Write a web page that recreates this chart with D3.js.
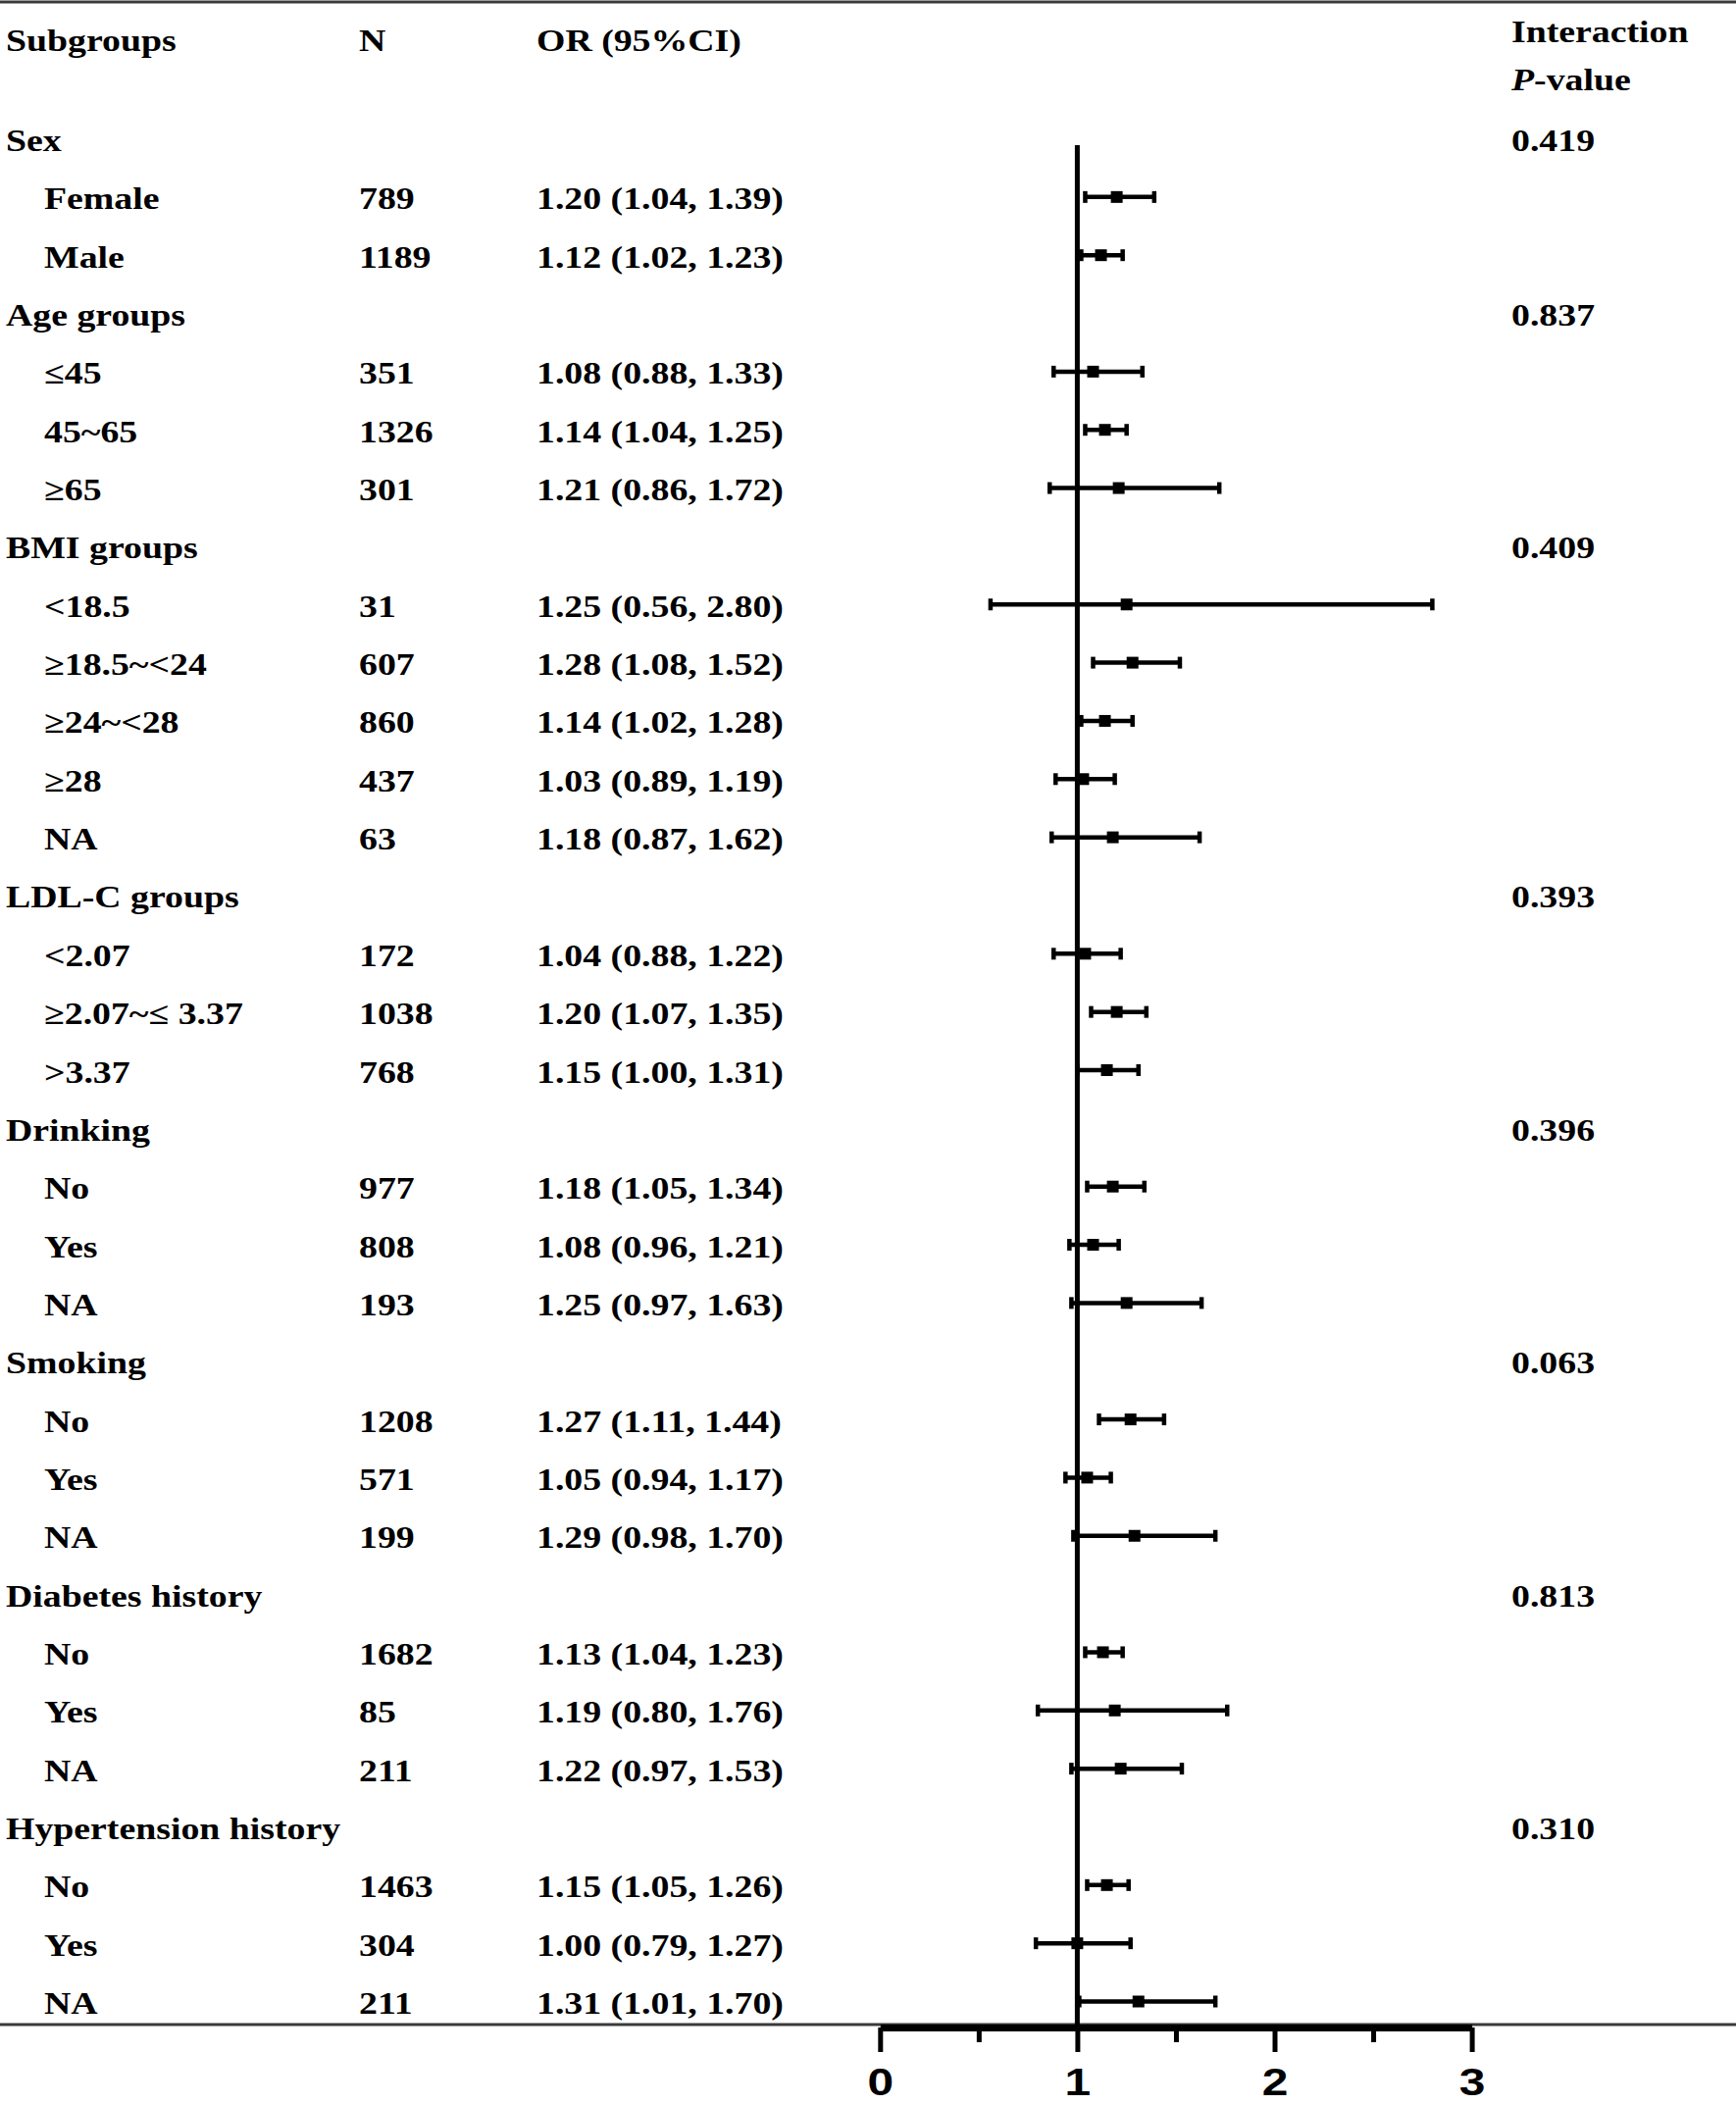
<!DOCTYPE html>
<html>
<head>
<meta charset="utf-8">
<script src="https://cdn.jsdelivr.net/npm/d3@7"></script>
<style>
  html, body { margin: 0; padding: 0; background: #fff; }
  svg { display: block; }
</style>
</head>
<body>
<div id="chart"></div>
<script>
// ---------------- DATA ----------------
const rowLabels = ["Sex","Female","Male","Age groups","≤45","45~65","≥65","BMI groups","<18.5","≥18.5~<24","≥24~<28","≥28","NA","LDL-C groups","<2.07","≥2.07~≤ 3.37",">3.37","Drinking","No","Yes","NA","Smoking","No","Yes","NA","Diabetes history","No","Yes","NA","Hypertension history","No","Yes","NA"];
const nValues   = [null,789,1189,null,351,1326,301,null,31,607,860,437,63,null,172,1038,768,null,977,808,193,null,1208,571,199,null,1682,85,211,null,1463,304,211];
const orValues  = [null,1.20,1.12,null,1.08,1.14,1.21,null,1.25,1.28,1.14,1.03,1.18,null,1.04,1.20,1.15,null,1.18,1.08,1.25,null,1.27,1.05,1.29,null,1.13,1.19,1.22,null,1.15,1.00,1.31];
const lowerCI   = [null,1.04,1.02,null,0.88,1.04,0.86,null,0.56,1.08,1.02,0.89,0.87,null,0.88,1.07,1.00,null,1.05,0.96,0.97,null,1.11,0.94,0.98,null,1.04,0.80,0.97,null,1.05,0.79,1.01];
const upperCI   = [null,1.39,1.23,null,1.33,1.25,1.72,null,2.80,1.52,1.28,1.19,1.62,null,1.22,1.35,1.31,null,1.34,1.21,1.63,null,1.44,1.17,1.70,null,1.23,1.76,1.53,null,1.26,1.27,1.70];
const pValues   = ["0.419",null,null,"0.837",null,null,null,"0.409",null,null,null,null,null,"0.393",null,null,null,"0.396",null,null,null,"0.063",null,null,null,"0.813",null,null,null,"0.310",null,null,null];
const majorTicks = [0, 1, 2, 3];
const minorTicks = [0.5, 1.5, 2.5];
const headerLabels = ["Subgroups", "N", "OR (95%CI)"];

// ---------------- LAYOUT ----------------
const W = 1770, H = 2145;
const FS = 31.5;
const SX = 37.8 / FS;       // horizontal stretch of the reference text
const FONT = "'Liberation Serif', 'Times New Roman', serif";

const svg = d3.select("#chart").append("svg")
  .attr("width", W).attr("height", H)
  .attr("viewBox", `0 0 ${W} ${H}`);
svg.append("rect").attr("width", W).attr("height", H).attr("fill", "#fff");

const x = d3.scaleLinear().domain([0, 3]).range([897.3, 1500.6]);
const y = d3.scaleLinear().domain([0, rowLabels.length - 1]).range([154, 2053]);
const axisY = 2067;
const barOffset = -12.5;

function txt(g, xPos, yPos, s, opts = {}) {
  const t = g.append("text")
    .attr("transform", `translate(${xPos},${yPos}) scale(${opts.sx || SX},1)`)
    .attr("font-family", opts.family || FONT)
    .attr("font-size", opts.size || FS)
    .attr("font-weight", "bold")
    .attr("fill", "#000")
    .attr("text-anchor", opts.anchor || "start");
  if (s !== null) t.text(s);
  return t;
}

// top rule
svg.append("line").attr("x1", 0).attr("x2", W).attr("y1", 2).attr("y2", 2)
  .attr("stroke", "#3a3a3a").attr("stroke-width", 3);

// headers
const hdr = svg.append("g");
txt(hdr, 6, 52, headerLabels[0]);
txt(hdr, 366, 52, headerLabels[1]);
txt(hdr, 547, 52, headerLabels[2]);
txt(hdr, 1541, 43, "Interaction");
const pv = txt(hdr, 1541, 92, null);
pv.append("tspan").attr("font-style", "italic").text("P");
pv.append("tspan").text("-value");

// table rows
const rows = svg.append("g");
rowLabels.forEach((lab, i) => {
  const isGroup = nValues[i] === null;
  const by = y(i);
  txt(rows, isGroup ? 6 : 45, by, lab);
  if (!isGroup) {
    txt(rows, 366, by, String(nValues[i]));
    txt(rows, 547, by, `${orValues[i].toFixed(2)} (${lowerCI[i].toFixed(2)}, ${upperCI[i].toFixed(2)})`);
  }
  if (pValues[i] !== null) txt(rows, 1541, by, pValues[i]);
});

// bottom thin rule
svg.append("line").attr("x1", 0).attr("x2", W).attr("y1", 2064).attr("y2", 2064)
  .attr("stroke", "#3a3a3a").attr("stroke-width", 3);

// reference line at OR = 1
svg.append("line")
  .attr("x1", x(1)).attr("x2", x(1))
  .attr("y1", 148).attr("y2", axisY)
  .attr("stroke", "#000").attr("stroke-width", 5);

// CI bars
const idx = d3.range(rowLabels.length).filter(i => orValues[i] !== null);
const ci = svg.append("g");
ci.selectAll("line.ci").data(idx).join("line").attr("class", "ci")
  .attr("x1", i => x(lowerCI[i])).attr("x2", i => x(upperCI[i]))
  .attr("y1", i => y(i) + barOffset).attr("y2", i => y(i) + barOffset)
  .attr("stroke", "#000").attr("stroke-width", 4.5);
ci.selectAll("line.capL").data(idx).join("line").attr("class", "capL")
  .attr("x1", i => x(lowerCI[i])).attr("x2", i => x(lowerCI[i]))
  .attr("y1", i => y(i) + barOffset - 6).attr("y2", i => y(i) + barOffset + 6)
  .attr("stroke", "#000").attr("stroke-width", 4.5);
ci.selectAll("line.capR").data(idx).join("line").attr("class", "capR")
  .attr("x1", i => x(upperCI[i])).attr("x2", i => x(upperCI[i]))
  .attr("y1", i => y(i) + barOffset - 6).attr("y2", i => y(i) + barOffset + 6)
  .attr("stroke", "#000").attr("stroke-width", 4.5);
ci.selectAll("rect.pt").data(idx).join("rect").attr("class", "pt")
  .attr("x", i => x(orValues[i]) - 6).attr("y", i => y(i) + barOffset - 6)
  .attr("width", 12).attr("height", 12).attr("fill", "#000");

// axis
const gMinor = svg.append("g").attr("transform", `translate(0,${axisY})`)
  .call(d3.axisBottom(x).tickValues(minorTicks).tickSize(15).tickSizeOuter(0).tickFormat(""));
gMinor.select(".domain").remove();
gMinor.selectAll(".tick line").attr("stroke", "#000").attr("stroke-width", 5);

const gMajor = svg.append("g").attr("transform", `translate(0,${axisY})`)
  .call(d3.axisBottom(x).tickValues(majorTicks).tickSize(25).tickSizeOuter(0).tickFormat(d3.format("d")));
gMajor.select(".domain").attr("stroke", "#000").attr("stroke-width", 7);
gMajor.selectAll(".tick line").attr("stroke", "#000").attr("stroke-width", 5);
gMajor.selectAll(".tick text")
  .attr("y", null).attr("dy", null)
  .attr("transform", `translate(0,69) scale(1.26,1)`)
  .attr("font-family", "'Liberation Sans', Arial, sans-serif")
  .attr("font-size", 38).attr("font-weight", "bold").attr("fill", "#000");
</script>
</body>
</html>
